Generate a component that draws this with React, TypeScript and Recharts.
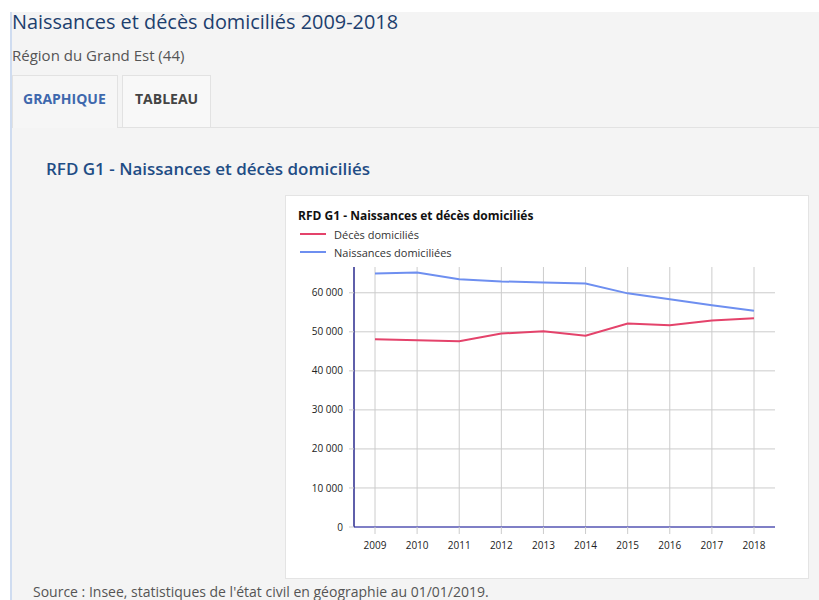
import React from 'react';
import { LineChart, Line, XAxis, YAxis, ReferenceLine } from 'recharts';

const years = ['2009', '2010', '2011', '2012', '2013', '2014', '2015', '2016', '2017', '2018'];
const deces = [48100, 47850, 47600, 49560, 50150, 48970, 52130, 51700, 52900, 53490];
const naissances = [64950, 65200, 63490, 62900, 62640, 62380, 59850, 58360, 56820, 55380];
const yTicks = [0, 10000, 20000, 30000, 40000, 50000, 60000];
const seriesNames = ['Décès domiciliés', 'Naissances domiciliées'];
const seriesColors = ['#e4436b', '#6e8ff0'];

const data = years.map((y, i) => ({ year: y, deces: deces[i], naissances: naissances[i] }));

const fmt = (v: number) => (v === 0 ? '0' : String(v).replace(/\B(?=(\d{3})+(?!\d))/g, ' '));

const font = '"Open Sans", "Noto Sans", sans-serif';

export default function App() {
  return (
    <div style={{ position: 'absolute', left: 0, top: 0, width: 819, height: 600, background: '#fff', overflow: 'hidden', fontFamily: font }}>
      <div style={{ position: 'absolute', left: 10, top: 12, width: 809, height: 588, background: '#f4f4f4', borderLeft: '2px solid #cfdcf0' }} />
      <div style={{ position: 'absolute', left: 12, top: 8, fontSize: 19.9, color: '#1d3f6e', whiteSpace: 'nowrap' }}>
        Naissances et décès domiciliés 2009-2018
      </div>
      <div style={{ position: 'absolute', left: 12, top: 45, fontSize: 15, color: '#555', whiteSpace: 'nowrap' }}>
        Région du Grand Est (44)
      </div>
      {/* tabs */}
      <div style={{ position: 'absolute', left: 12, top: 127, width: 807, height: 1, background: '#e2e2e2' }} />
      <div style={{ position: 'absolute', left: 12, top: 75, width: 106, height: 53, background: '#f6f6f6', border: '1px solid #e2e2e2', borderBottom: 'none', boxSizing: 'border-box' }} />
      <div style={{ position: 'absolute', left: 122, top: 75, width: 89, height: 52, background: '#f8f8f8', border: '1px solid #e2e2e2', borderBottom: 'none', boxSizing: 'border-box' }} />
      <div style={{ position: 'absolute', left: 23, top: 89, fontSize: 14, fontWeight: 700, color: '#3e68ad' }}>GRAPHIQUE</div>
      <div style={{ position: 'absolute', left: 135, top: 89, fontSize: 14, fontWeight: 700, color: '#444' }}>TABLEAU</div>
      <div style={{ position: 'absolute', left: 46, top: 157, fontSize: 17, fontWeight: 600, color: '#1f4d85', whiteSpace: 'nowrap' }}>
        RFD G1 - Naissances et décès domiciliés
      </div>
      {/* chart box */}
      <div style={{ position: 'absolute', left: 285, top: 195, width: 524, height: 384, background: '#fff', border: '1px solid #e4e4e4', boxSizing: 'border-box' }}>
        <div style={{ position: 'absolute', left: 12, top: 11, fontSize: 12, fontWeight: 700, color: '#111', whiteSpace: 'nowrap' }}>
          RFD G1 - Naissances et décès domiciliés
        </div>
        {seriesNames.map((n, i) => (
          <div key={n} style={{ position: 'absolute', left: 14, top: 31 + i * 18, height: 14, display: 'flex', alignItems: 'center', fontSize: 11, color: '#333', whiteSpace: 'nowrap' }}>
            <div style={{ width: 26, height: 2, background: seriesColors[i], marginRight: 8 }} />
            {n}
          </div>
        ))}
        <div style={{ position: 'absolute', left: 0, top: 0 }}>
          <LineChart width={522} height={382} data={data} margin={{ top: 71, right: 33, bottom: 21, left: 0 }}>
            {yTicks.filter((t) => t > 0).map((t) => (
              <ReferenceLine key={'h' + t} y={t} stroke="#cccccc" strokeWidth={1} ifOverflow="visible" />
            ))}
            {years.map((y) => (
              <ReferenceLine key={'v' + y} x={y} stroke="#cccccc" strokeWidth={1} ifOverflow="visible" />
            ))}
            <XAxis
              dataKey="year"
              padding={{ left: 21, right: 21 }}
              stroke="#7f7fc6"
              strokeWidth={2}
              tickLine={{ stroke: '#cccccc', strokeWidth: 1 }}
              tickSize={7}
              tick={{ fontSize: 10, fill: '#222', fontFamily: font, dy: 6 }}
              height={30}
              interval={0}
            />
            <YAxis
              domain={[0, 66600]}
              ticks={yTicks}
              tickFormatter={fmt}
              width={68}
              stroke="#2a2a8e"
              strokeWidth={1.5}
              tickLine={{ stroke: '#cccccc', strokeWidth: 1 }}
              tickSize={5}
              tick={{ fontSize: 10, fill: '#222', fontFamily: font, dx: -4 }}
              allowDataOverflow
            />
            <Line type="linear" dataKey="deces" stroke={seriesColors[0]} strokeWidth={2} dot={false} isAnimationActive={false} />
            <Line type="linear" dataKey="naissances" stroke={seriesColors[1]} strokeWidth={2} dot={false} isAnimationActive={false} />
          </LineChart>
        </div>
      </div>
      <div style={{ position: 'absolute', left: 33, top: 582, fontSize: 14, color: '#555', whiteSpace: 'nowrap' }}>
        Source : Insee, statistiques de l'état civil en géographie au 01/01/2019.
      </div>
    </div>
  );
}
